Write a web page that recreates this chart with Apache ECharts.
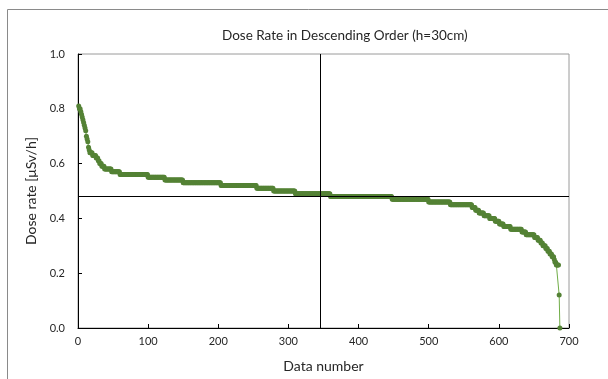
<!DOCTYPE html>
<html>
<head>
<meta charset="utf-8">
<script src="https://cdn.jsdelivr.net/npm/echarts@6/dist/echarts.min.js"></script>
<style>
  html, body { margin: 0; padding: 0; background: #fff; }
  #container { width: 608px; height: 379px; }
</style>
</head>
<body>
<div id="container"></div>
<script>
// dose rate levels (µSv/h) in descending order and how many data numbers sit at each level
var levelValues = [0.81, 0.80, 0.79, 0.78, 0.77, 0.76, 0.75, 0.74, 0.73, 0.72, 0.70, 0.69, 0.68, 0.66, 0.65,
  0.64, 0.63, 0.62, 0.61, 0.60, 0.59, 0.58, 0.57, 0.56, 0.55, 0.54, 0.53, 0.52, 0.51, 0.50,
  0.49, 0.48, 0.47, 0.46, 0.45, 0.44, 0.43, 0.42, 0.41, 0.40, 0.39, 0.38, 0.37, 0.36, 0.35,
  0.34, 0.33, 0.32, 0.31, 0.30, 0.29, 0.28, 0.27, 0.26, 0.25, 0.24, 0.23, 0.12, 0.00];
var levelCounts = [1, 2, 1, 1, 1, 1, 1, 1, 1, 1, 1, 1, 1, 1, 1,
  4, 5, 3, 2, 3, 4, 10, 12, 40, 24, 26, 54, 51, 24, 31,
  50, 88, 52, 31, 31, 5, 5, 7, 8, 8, 6, 6, 10, 16, 6,
  12, 5, 4, 3, 4, 3, 3, 3, 3, 1, 2, 4, 1, 1];
var xTicks = [0, 700, 100];
var yTicks = [0, 1, 0.2];
// median reference lines
var medianNumber = 345;
var medianValue = 0.485;

var points = [];
var n = 1;
for (var i = 0; i < levelValues.length; i++) {
  for (var k = 0; k < levelCounts[i]; k++) {
    points.push([n, levelValues[i]]);
    n++;
  }
}

var myChart = echarts.init(document.getElementById('container'));
var font = 'Lato, "Noto Sans", sans-serif';

var option = {
  animation: false,
  textStyle: { fontFamily: font },
  title: {
    text: 'Dose Rate in Descending Order (h=30cm)',
    left: 217,
    top: 24,
    textStyle: { fontSize: 13.5, fontWeight: 'normal', color: '#262626', fontFamily: font }
  },
  graphic: [{
    type: 'rect',
    shape: { x: 7.5, y: 9.5, width: 700, height: 500 },
    style: { fill: 'none', stroke: '#8a8a8a', lineWidth: 1 },
    silent: true
  }],
  grid: {
    left: 78, top: 54, right: 39, bottom: 51,
    show: true, borderColor: '#9a9a9a', borderWidth: 1
  },
  xAxis: {
    type: 'value',
    min: xTicks[0], max: xTicks[1], interval: xTicks[2],
    name: 'Data number',
    nameLocation: 'middle',
    nameGap: 31,
    nameTextStyle: { fontSize: 14, color: '#262626' },
    axisLine: { lineStyle: { color: '#000', width: 1 } },
    axisTick: { inside: true, length: 4, lineStyle: { color: '#000' } },
    axisLabel: { fontSize: 11, color: '#262626', margin: 8 },
    splitLine: { show: false }
  },
  yAxis: {
    type: 'value',
    min: yTicks[0], max: yTicks[1], interval: yTicks[2],
    name: 'Dose rate [μSv/h]',
    nameLocation: 'middle',
    nameGap: 39,
    nameTextStyle: { fontSize: 14, color: '#262626' },
    axisLine: { show: true, lineStyle: { color: '#000', width: 1 } },
    axisTick: { show: true, inside: true, length: 4, lineStyle: { color: '#000' } },
    axisLabel: {
      fontSize: 11, color: '#262626', margin: 13,
      formatter: function (v) { return v.toFixed(1); }
    },
    splitLine: { show: false }
  },
  series: [{
    type: 'line',
    data: points,
    symbol: 'circle',
    symbolSize: 5,
    showAllSymbol: true,
    lineStyle: { color: '#70ad47', width: 1 },
    itemStyle: { color: '#548235' },
    markLine: {
      silent: true,
      symbol: 'none',
      label: { show: false },
      lineStyle: { color: '#000', width: 1, type: 'solid' },
      data: [{ xAxis: medianNumber }, { yAxis: medianValue }]
    }
  }]
};

myChart.setOption(option);
</script>
</body>
</html>
